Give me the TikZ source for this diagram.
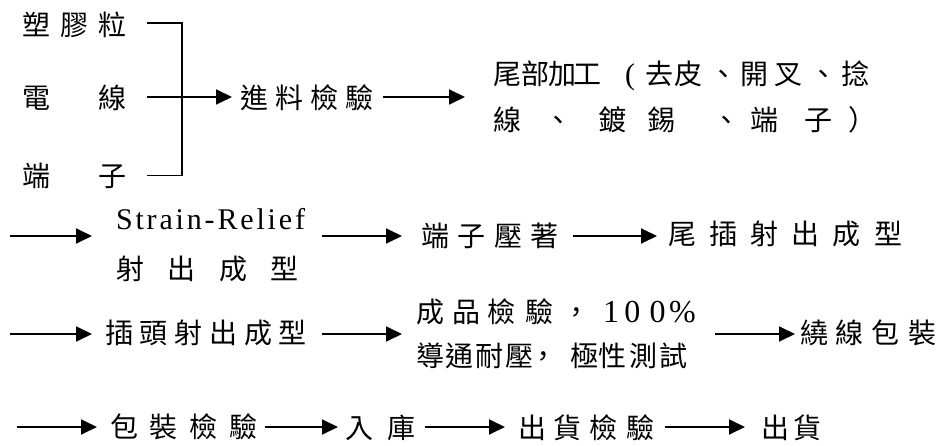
\documentclass[tikz,border=0pt]{standalone}
\usepackage{fontspec}
\setmainfont{Liberation Serif}
\newfontfamily\cjk{Noto Sans CJK TC}
\usetikzlibrary{arrows.meta}
\newcommand\spread[2]{\makebox[#1][s]{\spreadA#2\relax}}
\def\spreadA#1{#1\spreadB}
\def\spreadB#1{\ifx#1\relax\else\hfill#1\expandafter\spreadB\fi}
\newcommand\cp[2]{\makebox[0pt][l]{\hspace*{#1pt}#2}}
\newcommand\cc[2]{\makebox[0pt][l]{\hspace*{#1pt}\makebox[0pt]{#2}}}
\newcommand\lat[1]{{\rmfamily\fontsize{30}{30}\selectfont #1}}
\newcommand\dig[1]{{\rmfamily\fontsize{32}{32}\selectfont #1}}
\begin{document}
\begin{tikzpicture}[x=1pt,y=-1pt,
  txt/.style={inner sep=0pt, outer sep=0pt, anchor=base west, font=\cjk\fontsize{28}{30}\selectfont},
  link/.style={line width=1.8pt},
  arr/.style={line width=1.8pt, -{Triangle[length=16pt,width=15pt]}}]
\fill[white] (0,0) rectangle (939,446);
\useasboundingbox (0,0) rectangle (939,446);
% row 1
\node[txt] (n1) at (23,36) {\spread{104pt}{塑膠粒}};
\node[txt] (n2) at (23,109) {\spread{104pt}{電線}};
\node[txt] (n3) at (23,187) {\spread{104pt}{端子}};
\node[txt] (n4) at (240,109) {\spread{134pt}{進料檢驗}};
\node[txt, font=\cjk\fontsize{28}{46}\selectfont] (n5) at (493,85) {\begin{tabular}[t]{@{}l@{}}%
\makebox[378pt][l]{\cp{0}{尾}\cp{28}{部}\cp{55}{加}\cp{80}{工}\cp{132}{\lat{(}}\cp{152}{去}\cp{182}{皮}\cc{230.5}{、}\cp{248}{開}\cp{282}{叉}\cc{330.5}{、}\cp{348}{捻}}\\
\makebox[378pt][l]{\cp{0}{線}\cc{65.5}{、}\cp{105}{鍍}\cp{155}{錫}\cc{233.5}{、}\cp{258}{端}\cp{312}{子}\cc{369.5}{）}}%
\end{tabular}};
% row 2
\node[txt, font=\cjk\fontsize{28}{50}\selectfont] (sr) at (116,230) {\begin{tabular}[t]{@{}l@{}}%
\lat{\spread{189pt}{Strain-Relief}}\\
\spread{183pt}{射出成型}%
\end{tabular}};
\node[txt] (dz) at (421,247) {\spread{138pt}{端子壓著}};
\node[txt] (wc) at (668,245) {\spread{234pt}{尾插射出成型}};
% row 3
\node[txt] (ct) at (105,343) {\spread{202pt}{插頭射出成型}};
\node[txt, font=\cjk\fontsize{28}{44}\selectfont] (cp) at (416,322) {\begin{tabular}[t]{@{}l@{}}%
\makebox[278pt][l]{\cp{0}{成}\cp{37}{品}\cp{72}{檢}\cp{110}{驗}\cc{160.5}{，}\cc{195}{\dig{1}}\cc{216.5}{\dig{0}}\cc{241.5}{\dig{0}}\cc{266.5}{\dig{\%}}}\\
\makebox[278pt][l]{\cp{0}{導}\cp{30}{通}\cp{60}{耐}\cp{90}{壓}\cc{127.5}{，}\cp{155}{極}\cp{183}{性}\cp{213}{測}\cp{244}{試}}%
\end{tabular}};
\node[txt] (rx) at (800,343) {\spread{136pt}{繞線包裝}};
% row 4
\node[txt] (bz) at (110,437) {\spread{148pt}{包裝檢驗}};
\node[txt] (rk) at (345,438) {\spread{70pt}{入庫}};
\node[txt] (ch) at (518,438) {\spread{136pt}{出貨檢驗}};
\node[txt] (cg) at (761,438) {\spread{61pt}{出貨}};
% row coordinates
\coordinate (j) at (182,97);
\coordinate (r1) at (0,97);
\coordinate (s2) at (10,236);
\coordinate (s3) at (10,334);
\coordinate (s4) at (17,427);
% connectors row 1
\draw[link, shorten <=20pt, shorten >=20pt] ([yshift=2pt]n1.east) -| (j) |- ([yshift=1pt]n3.east);
\draw[arr, shorten <=20pt, shorten >=8pt] (n2.east |- r1) -- (n4.west |- r1);
\draw[arr, shorten <=9pt, shorten >=28pt] (n4.east |- r1) -- (n5.west |- r1);
% row 2
\draw[arr, shorten >=24pt] (s2) -- (s2 -| sr.west);
\draw[arr, shorten <=17pt, shorten >=19pt] (sr.east |- s2) -- (dz.west |- s2);
\draw[arr, shorten <=14pt, shorten >=11pt] (dz.east |- s2) -- (wc.west |- s2);
% row 3
\draw[arr, shorten >=13pt] (s3) -- (s3 -| ct.west);
\draw[arr, shorten <=15pt, shorten >=14pt] (ct.east |- s3) -- (cp.west |- s3);
\draw[arr, shorten <=21pt, shorten >=5pt] (cp.east |- s3) -- (rx.west |- s3);
% row 4
\draw[arr, shorten >=13pt] (s4) -- (s4 -| bz.west);
\draw[arr, shorten <=7pt, shorten >=7pt] (bz.east |- s4) -- (rk.west |- s4);
\draw[arr, shorten <=10pt, shorten >=13pt] (rk.east |- s4) -- (ch.west |- s4);
\draw[arr, shorten <=11pt, shorten >=16pt] (ch.east |- s4) -- (cg.west |- s4);
\end{tikzpicture}
\end{document}
